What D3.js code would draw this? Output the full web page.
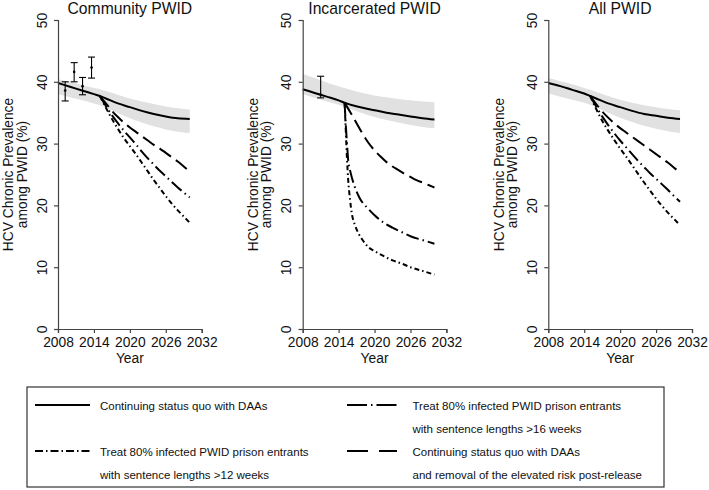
<!DOCTYPE html>
<html><head><meta charset="utf-8">
<script src="https://cdn.jsdelivr.net/npm/d3@7"></script>
<style>
html,body{margin:0;padding:0;background:#fff;}
svg{display:block;font-family:"Liberation Sans",Arial,Helvetica,sans-serif;}
</style></head>
<body><svg id="c" width="709" height="490"></svg>
<script>
// ---------- data ----------
const panelTitles = ["Community PWID", "Incarcerated PWID", "All PWID"];
const xTicks = [2008, 2014, 2020, 2026, 2032];
const yTicks = [0, 10, 20, 30, 40, 50];

const baseYears = [2008, 2010, 2012, 2014, 2015, 2016, 2018, 2020, 2022, 2024, 2026, 2028, 2030];
const commBase  = [39.8, 39.2, 38.6, 38.0, 37.7, 37.3, 36.5, 35.9, 35.3, 34.8, 34.4, 34.1, 34.0];
const commUpper = [40.4, 40.0, 39.5, 39.0, 38.8, 38.5, 37.9, 37.3, 36.8, 36.4, 36.0, 35.7, 35.5];
const commLower = [38.0, 37.5, 37.0, 36.5, 36.2, 35.8, 34.9, 34.1, 33.4, 32.8, 32.3, 31.9, 31.7];
const incBase   = [38.8, 38.2, 37.6, 37.0, 36.6, 36.3, 35.8, 35.4, 35.0, 34.7, 34.4, 34.1, 33.9];
const incUpper  = [41.3, 40.6, 39.9, 39.3, 39.0, 38.7, 38.2, 37.8, 37.5, 37.2, 37.0, 36.8, 36.7];
const incLower  = [38.0, 37.4, 36.8, 36.3, 36.0, 35.6, 34.9, 34.3, 33.8, 33.4, 33.0, 32.7, 32.5];
const allBase   = [39.8, 39.3, 38.7, 38.1, 37.7, 37.3, 36.5, 35.9, 35.3, 34.8, 34.5, 34.2, 34.0];
const allUpper  = [40.6, 40.1, 39.6, 39.0, 38.7, 38.4, 37.7, 37.1, 36.6, 36.2, 35.9, 35.6, 35.4];
const allLower  = [38.1, 37.6, 37.1, 36.6, 36.3, 35.9, 35.0, 34.2, 33.5, 32.9, 32.4, 32.0, 31.7];

const scenYears = [2015, 2016, 2017, 2018, 2019, 2020, 2021, 2022, 2023, 2024, 2025, 2026, 2027, 2028, 2029, 2030];
const commRisk    = [37.7, 36.5, 35.3, 34.3, 33.4, 32.6, 31.9, 31.2, 30.5, 29.8, 29.2, 28.5, 27.8, 27.1, 26.3, 25.5];
const commTreat16 = [37.7, 36.1, 34.6, 33.3, 32.1, 31.0, 29.9, 28.7, 27.6, 26.6, 25.6, 24.7, 23.8, 22.9, 22.1, 21.3];
const commTreat12 = [37.7, 35.8, 34.0, 32.4, 30.9, 29.6, 28.3, 26.9, 25.5, 24.1, 22.8, 21.5, 20.3, 19.2, 18.2, 17.2];
const allRisk     = [37.7, 36.4, 35.2, 34.2, 33.3, 32.5, 31.8, 31.1, 30.4, 29.7, 29.0, 28.3, 27.6, 26.9, 26.1, 25.3];
const allTreat16  = [37.7, 36.0, 34.4, 33.0, 31.7, 30.5, 29.4, 28.3, 27.2, 26.2, 25.2, 24.3, 23.4, 22.5, 21.5, 20.6];
const allTreat12  = [37.7, 35.6, 33.7, 32.1, 30.6, 29.2, 27.9, 26.5, 25.1, 23.7, 22.4, 21.1, 19.9, 18.8, 17.8, 16.8];

const incRisk     = [36.6, 35.0, 33.3, 31.6, 30.1, 28.9, 27.9, 27.0, 26.3, 25.7, 25.1, 24.6, 24.1, 23.7, 23.3, 22.9];
const incYears16  = [2015.0, 2015.2, 2015.4, 2015.6, 2016, 2016.7, 2017.5, 2018.9, 2020, 2021.7, 2023, 2024.5, 2026, 2028, 2030];
const incTreat16  = [36.6, 33.0, 30.0, 27.3, 25.3, 23.0, 21.2, 19.5, 18.4, 17.1, 16.4, 15.7, 15.0, 14.4, 13.8];
const incYears12  = [2015.0, 2015.2, 2015.4, 2015.6, 2015.9, 2016.2, 2016.7, 2017.3, 2018, 2018.9, 2020, 2021.7, 2023, 2024.5, 2026, 2028, 2030];
const incTreat12  = [36.6, 32.0, 27.5, 24.1, 21.0, 18.7, 16.9, 15.5, 14.4, 13.3, 12.6, 11.7, 11.1, 10.6, 10.0, 9.4, 8.8];

const commObsYears = [2009.2, 2010.7, 2012.1, 2013.6];
const commObs      = [38.6, 41.6, 39.3, 42.3];
const commObsLow   = [36.9, 40.0, 37.9, 40.6];
const commObsHigh  = [40.0, 43.1, 40.7, 44.0];
const incObsYears  = [2011.0];
const incObs       = [37.9];
const incObsLow    = [37.4];
const incObsHigh   = [40.9];

const legendLabels = [
  ["Continuing status quo with DAAs"],
  ["Treat 80% infected PWID prison entrants", "with sentence lengths >16 weeks"],
  ["Treat 80% infected PWID prison entrants", "with sentence lengths >12 weeks"],
  ["Continuing status quo with DAAs", "and removal of the elevated risk post-release"]
];

// ---------- styles ----------
const DASH = { base: null, t16: "13,4,1.5,4", t12: "5,3,1.5,3", risk: "14,6" };
const LDASH = { base: null, t16: "20,4,1.5,4", t12: "8,3,1.5,3", risk: "21,11" };
const FONT = "'Liberation Sans', Arial, Helvetica, sans-serif";

const zip = (xs, ys) => xs.map((x, i) => [x, ys[i]]);

const panels = [
  { base: commBase, upper: commUpper, lower: commLower,
    scen: [{k:"risk", xs: scenYears, ys: commRisk}, {k:"t16", xs: scenYears, ys: commTreat16}, {k:"t12", xs: scenYears, ys: commTreat12}],
    obs: {xs: commObsYears, y: commObs, lo: commObsLow, hi: commObsHigh} },
  { base: incBase, upper: incUpper, lower: incLower,
    scen: [{k:"risk", xs: scenYears, ys: incRisk}, {k:"t16", xs: incYears16, ys: incTreat16}, {k:"t12", xs: incYears12, ys: incTreat12}],
    obs: {xs: incObsYears, y: incObs, lo: incObsLow, hi: incObsHigh} },
  { base: allBase, upper: allUpper, lower: allLower,
    scen: [{k:"risk", xs: scenYears, ys: allRisk}, {k:"t16", xs: scenYears, ys: allTreat16}, {k:"t12", xs: scenYears, ys: allTreat12}],
    obs: null }
];

const svg = d3.select("#c");
const panelLeft = [58, 302.7, 548.3];
const panelW = 143.7;
const yTop = 20, yBot = 329;
const axisColor = "#444";

panels.forEach((p, i) => {
  const x = d3.scaleLinear().domain([2008, 2032]).range([panelLeft[i], panelLeft[i] + panelW]);
  const y = d3.scaleLinear().domain([0, 50]).range([yBot, yTop]);
  const g = svg.append("g");

  // band
  const bandData = baseYears.map((yr, j) => ({yr, lo: p.lower[j], hi: p.upper[j]}));
  g.append("path").datum(bandData)
    .attr("d", d3.area().x(d => x(d.yr)).y0(d => y(d.lo)).y1(d => y(d.hi)).curve(d3.curveMonotoneX))
    .attr("fill", "#e1e1e1");

  // scenarios
  const line = d3.line().x(d => x(d[0])).y(d => y(d[1])).curve(d3.curveMonotoneX);
  p.scen.forEach(s => {
    g.append("path").datum(zip(s.xs, s.ys)).attr("d", line)
      .attr("fill", "none").attr("stroke", "#000").attr("stroke-width", 2)
      .attr("stroke-dasharray", DASH[s.k]);
  });
  // baseline
  g.append("path").datum(zip(baseYears, p.base)).attr("d", line)
    .attr("fill", "none").attr("stroke", "#000").attr("stroke-width", 2);

  // observed data
  if (p.obs) {
    p.obs.xs.forEach((yr, j) => {
      const cx = x(yr);
      g.append("line").attr("x1", cx).attr("x2", cx).attr("y1", y(p.obs.lo[j])).attr("y2", y(p.obs.hi[j]))
        .attr("stroke", "#000").attr("stroke-width", 1.1);
      [p.obs.lo[j], p.obs.hi[j]].forEach(v => {
        g.append("line").attr("x1", cx - 3.5).attr("x2", cx + 3.5).attr("y1", y(v)).attr("y2", y(v))
          .attr("stroke", "#000").attr("stroke-width", 1.1);
      });
      g.append("circle").attr("cx", cx).attr("cy", y(p.obs.y[j])).attr("r", 1.3).attr("fill", "#000");
    });
  }

  // axes
  const xa = g.append("g").attr("transform", `translate(0,${yBot})`)
    .call(d3.axisBottom(x).tickValues(xTicks).tickSize(4).tickPadding(2).tickFormat(d3.format("d")));
  xa.select(".domain").attr("stroke", axisColor).attr("stroke-width", 1.2);
  xa.selectAll(".tick line").attr("stroke", axisColor).attr("stroke-width", 1.2);
  xa.selectAll(".tick text").attr("font-size", 13.8).attr("font-family", FONT).attr("fill", "#111").attr("dy", "0.85em");

  const ya = g.append("g").attr("transform", `translate(${panelLeft[i]},0)`)
    .call(d3.axisLeft(y).tickValues(yTicks).tickSize(4).tickFormat(d3.format("d")));
  ya.select(".domain").attr("stroke", axisColor).attr("stroke-width", 1.2);
  ya.selectAll(".tick line").attr("stroke", axisColor).attr("stroke-width", 1.2);
  ya.selectAll(".tick text")
    .attr("font-size", 13.8).attr("font-family", FONT).attr("fill", "#111")
    .attr("x", null).attr("dy", null)
    .attr("text-anchor", "middle")
    .attr("transform", "translate(-11.3,0) rotate(-90)");

  // titles
  const cx = panelLeft[i] + panelW / 2;
  g.append("text").attr("x", cx).attr("y", 14).attr("text-anchor", "middle")
    .attr("font-size", 15.7).attr("font-family", FONT).attr("fill", "#111").text(panelTitles[i]);
  g.append("text").attr("x", cx).attr("y", 363).attr("text-anchor", "middle")
    .attr("font-size", 13.8).attr("font-family", FONT).attr("fill", "#111").text("Year");
  const yc = (yTop + yBot) / 2;
  g.append("text").attr("transform", `translate(${panelLeft[i] - 44.7},${yc}) rotate(-90)`)
    .attr("text-anchor", "middle").attr("font-size", 13.8).attr("font-family", FONT).attr("fill", "#111")
    .text("HCV Chronic Prevalence");
  g.append("text").attr("transform", `translate(${panelLeft[i] - 31.5},${yc}) rotate(-90)`)
    .attr("text-anchor", "middle").attr("font-size", 13.8).attr("font-family", FONT).attr("fill", "#111")
    .text("among PWID (%)");
});

// ---------- legend ----------
const lg = svg.append("g");
lg.append("rect").attr("x", 27).attr("y", 387).attr("width", 637).attr("height", 100)
  .attr("fill", "#fff").attr("stroke", "#333").attr("stroke-width", 1.2);

const legendItems = [
  {k: "base", lines: legendLabels[0], sx: 35, ex: 90, tx: 100, ly: 405, tys: [409.5]},
  {k: "t16", lines: legendLabels[1], sx: 347, ex: 397, tx: 412.5, ly: 405, tys: [409.5, 432.5]},
  {k: "t12", lines: legendLabels[2], sx: 35, ex: 90, tx: 100, ly: 451, tys: [456, 479]},
  {k: "risk", lines: legendLabels[3], sx: 347, ex: 397, tx: 412.5, ly: 451, tys: [456, 479]}
];
legendItems.forEach(it => {
  lg.append("line").attr("x1", it.sx).attr("x2", it.ex).attr("y1", it.ly).attr("y2", it.ly)
    .attr("stroke", "#000").attr("stroke-width", 2).attr("stroke-dasharray", LDASH[it.k]);
  it.lines.forEach((t, j) => {
    lg.append("text").attr("x", it.tx).attr("y", it.tys[j]).attr("font-size", 11.5)
      .attr("font-family", FONT).attr("fill", "#111").text(t);
  });
});
</script></body></html>
